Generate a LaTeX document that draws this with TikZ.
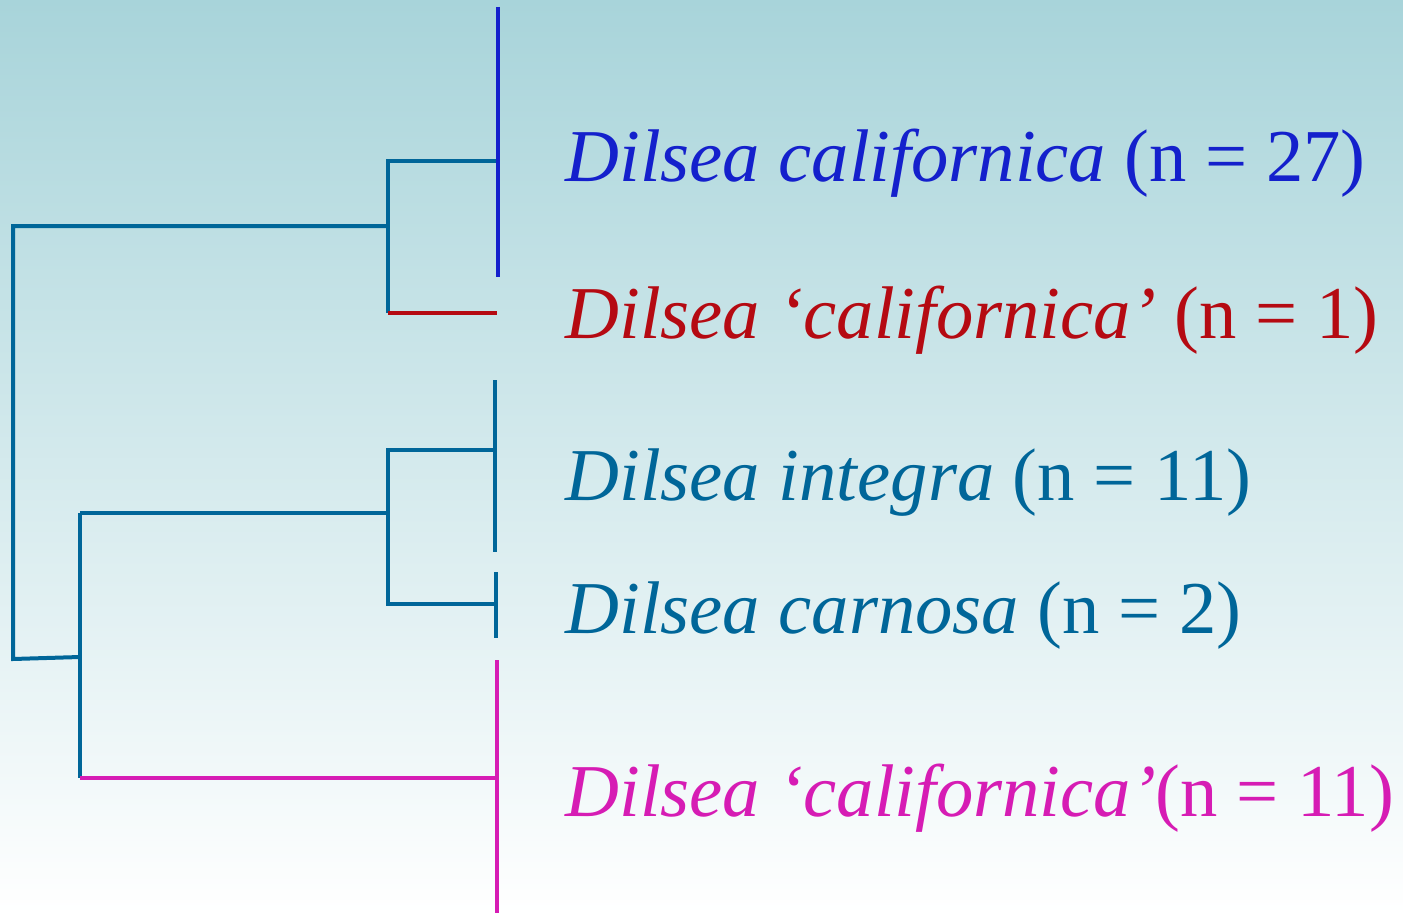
\documentclass[tikz,border=0pt]{standalone}
\usepackage{fontspec}
\setmainfont{Liberation Serif}
\definecolor{bgtop}{HTML}{A8D4DA}
\definecolor{tealc}{HTML}{006699}
\definecolor{bluec}{HTML}{1420CC}
\definecolor{redc}{HTML}{B50A12}
\definecolor{pinkc}{HTML}{D61CB4}
\tikzset{
  branch/.style={line width=2pt, line cap=butt, line join=miter},
  taxon/.style={anchor=base west, inner sep=0pt, font=\fontsize{37.3}{44}\selectfont}
}
\begin{document}
\begin{tikzpicture}[x=0.5pt, y=-0.5pt]
  % backdrop
  \shade[top color=bgtop, bottom color=white] (0,0) rectangle (1403,915);
  \useasboundingbox (0,0) rectangle (1403,915);

  % tree coordinates
  \coordinate (root)  at (13,226);
  \coordinate (rootb) at (13,659);
  \coordinate (lowj)  at (80,657);
  \coordinate (lowt)  at (80,513);
  \coordinate (lowb)  at (80,778);
  \coordinate (upj)   at (388,226);
  \coordinate (upt)   at (388,161);
  \coordinate (upb)   at (388,313);
  \coordinate (midj)  at (388,513);
  \coordinate (midt)  at (388,450);
  \coordinate (midb)  at (388,604);

  % tips
  \coordinate (calT) at (498,7);
  \coordinate (calM) at (498,161);
  \coordinate (calB) at (498,277);
  \coordinate (redM) at (497,313);
  \coordinate (intT) at (495,380);
  \coordinate (intM) at (495,450);
  \coordinate (intB) at (495,552);
  \coordinate (carT) at (496,572);
  \coordinate (carM) at (496,604);
  \coordinate (carB) at (496,638);
  \coordinate (pnkT) at (497,660);
  \coordinate (pnkM) at (497,778);
  \coordinate (pnkB) at (497,913);

  % inner branches
  \draw[branch, tealc] (upj) -- (root) -- (rootb) -- (lowj);
  \draw[branch, tealc] (calM) -- (upt) -- (upb);
  \draw[branch, tealc] (lowt) -- (midj);
  \draw[branch, tealc] (intM) -- (midt) -- (midb) -- (carM);
  \draw[branch, tealc] (lowt) -- (lowb);

  % terminal clades
  \draw[branch, bluec] (calT) -- (calB);
  \draw[branch, redc] (upb) -- (redM);
  \draw[branch, tealc] (intT) -- (intB);
  \draw[branch, tealc] (carT) -- (carB);
  \draw[branch, pinkc] (lowb) -- (pnkM);
  \draw[branch, pinkc] (pnkT) -- (pnkB);

  % taxon labels
  \node[taxon, text=bluec] (lcal) at (565,181) {\textit{Dilsea californica} (n = 27)};
  \node[taxon, text=redc]  (lred) at (565,338) {\textit{Dilsea ‘californica’} (n = 1)};
  \node[taxon, text=tealc] (lint) at (565,500) {\textit{Dilsea integra} (n = 11)};
  \node[taxon, text=tealc] (lcar) at (565,633) {\textit{Dilsea carnosa} (n = 2)};
  \node[taxon, text=pinkc] (lpnk) at (565,816) {\textit{Dilsea ‘californica’}(n = 11)};
\end{tikzpicture}
\end{document}
